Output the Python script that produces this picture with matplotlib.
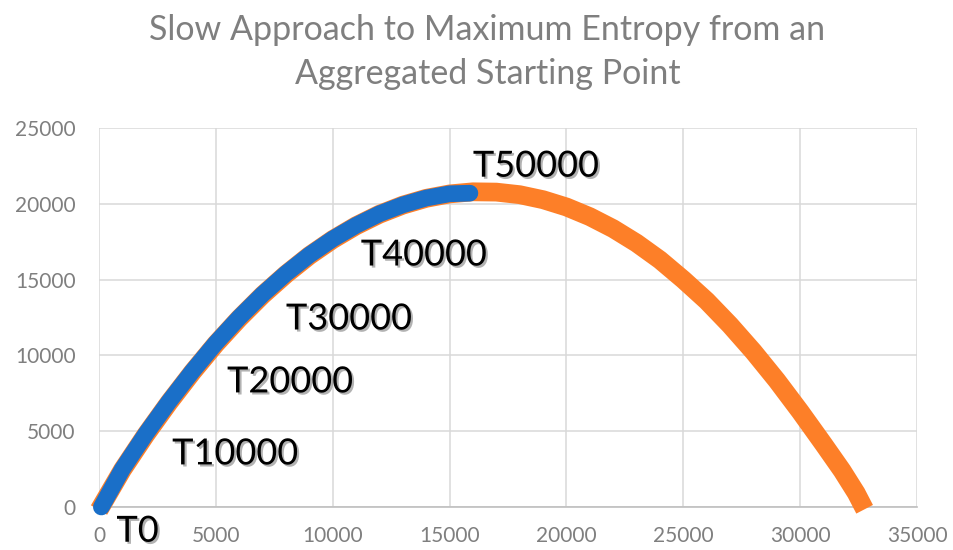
import matplotlib
matplotlib.use("Agg")
import matplotlib.pyplot as plt
import matplotlib.patheffects as pe

# full run (orange)
full_x = [0, 1000, 2000, 3000, 4000, 5000, 6000, 7000, 8000, 9000, 10000,
          11000, 12000, 13000, 14000, 15000, 16000, 17000, 18000, 19000,
          20000, 21000, 22000, 23000, 24000, 25000, 26000, 27000, 28000,
          29000, 30000, 31000, 31800, 32400, 32760]
full_y = [-200, 2450, 4760, 6900, 8900, 10760, 12440, 13980, 15350, 16580,
          17640, 18550, 19310, 19910, 20360, 20650, 20790, 20770, 20600,
          20270, 19790, 19150, 18360, 17410, 16300, 15000, 13600, 12000,
          10250, 8350, 6300, 4150, 2390, 920, -150]

# first 50000 steps (blue)
early_x = [100, 1000, 2000, 3000, 4000, 5000, 6000, 7000, 8000, 9000, 10000,
           11000, 12000, 13000, 14000, 15000, 15870]
early_y = [0, 2500, 4820, 6960, 8960, 10820, 12500, 14030, 15400, 16620,
           17680, 18580, 19340, 19930, 20380, 20660, 20700]

# step labels and where they sit
labels = ["T0", "T10000", "T20000", "T30000", "T40000", "T50000"]
label_x = [1650, 5830, 8180, 10700, 13900, 18700]
label_y = [-1600, 3500, 8250, 12400, 16620, 22480]

fig = plt.figure(figsize=(9.54, 5.5), dpi=100)
ax = fig.add_axes([0.1038, 0.0782, 0.8574, 0.6891])

ax.plot(full_x, full_y, color="#fd7f28", lw=13.5, solid_capstyle="butt",
        solid_joinstyle="round", clip_on=False, zorder=3)
ax.plot(early_x, early_y, color="#1a6fc8", lw=12, solid_capstyle="round",
        solid_joinstyle="round", clip_on=False, zorder=4)

shadow = [pe.SimplePatchShadow(offset=(1.5, -1.5), shadow_rgbFace="#555555", alpha=0.45),
          pe.Normal()]
for t, x, y in zip(labels, label_x, label_y):
    ax.text(x, y, t, fontsize=26, family="Lato", color="black",
            ha="center", va="center", path_effects=shadow, zorder=5,
            clip_on=False)

ax.set_xlim(0, 35000)
ax.set_ylim(0, 25000)
ax.set_xticks(range(0, 35001, 5000))
ax.set_yticks(range(0, 25001, 5000))
ax.grid(color="#d9d9d9", lw=1.1)
ax.set_axisbelow(True)
for s in ["top", "right", "left"]:
    ax.spines[s].set_visible(False)
ax.spines["bottom"].set_color("#bfbfbf")
ax.spines["bottom"].set_linewidth(1.2)
ax.tick_params(length=0, labelsize=15, labelcolor="#7f7f7f")
ax.tick_params(axis="x", pad=14)
ax.tick_params(axis="y", pad=17)
for lbl in ax.get_xticklabels() + ax.get_yticklabels():
    lbl.set_family("Lato")

fig.text(0.511, 0.905, "Slow Approach to Maximum Entropy from an\nAggregated Starting Point",
         ha="center", va="center", fontsize=24.5, family="Lato", color="#7f7f7f",
         linespacing=1.45)

fig.savefig("out.png", dpi=100)
